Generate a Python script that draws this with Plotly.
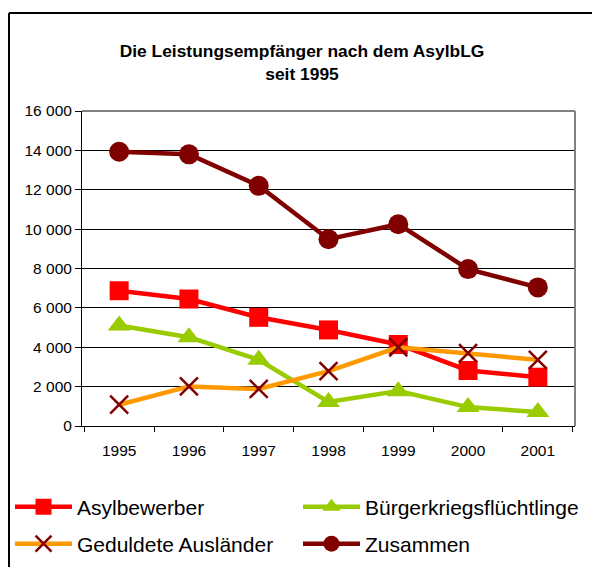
import plotly.graph_objects as go

years = ["1995", "1996", "1997", "1998", "1999", "2000", "2001"]
asylbewerber = [6870, 6450, 5520, 4880, 4140, 2820, 2480]
buergerkrieg = [5100, 4510, 3360, 1220, 1770, 960, 710]
geduldete = [1080, 2010, 1880, 2790, 4000, 3700, 3360]
zusammen = [13930, 13800, 12200, 9490, 10250, 7970, 7040]
y_ticks = [0, 2000, 4000, 6000, 8000, 10000, 12000, 14000, 16000]

FONT = "Liberation Sans, Arial, sans-serif"

# The page places the figure 8px from the window's top-left corner,
# so the figure is sized and positioned in window coordinates minus 8.
OFF = 8
W, H = 600 - OFF, 567 - OFF


def sx(x):  # window x -> container fraction
    return (x - OFF) / W


def sy(y):  # window y -> container fraction
    return 1 - (y - OFF) / H


L, R = 82 - OFF, 600 - 575
T, B = 111 - OFF, 567 - 426
pw, ph = W - L - R, H - T - B


def px(x):  # window x -> paper fraction
    return (x - OFF - L) / pw


def py(y):  # window y -> paper fraction
    return (H - B - (y - OFF)) / ph


fig = go.Figure()
fig.add_trace(go.Scatter(x=years, y=asylbewerber, name="Asylbewerber", mode="lines+markers",
                         line=dict(color="#FF0000", width=4.5),
                         marker=dict(symbol="square", size=19, color="#FF0000"),
                         legend="legend"))
fig.add_trace(go.Scatter(x=years, y=buergerkrieg, name="Bürgerkriegsflüchtlinge", mode="lines+markers",
                         line=dict(color="#99CC00", width=4.5),
                         marker=dict(symbol="triangle-up", size=20, color="#99CC00"),
                         legend="legend2"))
fig.add_trace(go.Scatter(x=years, y=geduldete, name="Geduldete Ausländer", mode="lines+markers",
                         line=dict(color="#FF9900", width=4.5),
                         marker=dict(symbol="x-thin-open", size=18, color="#800000",
                                     line=dict(color="#800000", width=2.5)),
                         legend="legend3"))
fig.add_trace(go.Scatter(x=years, y=zusammen, name="Zusammen", mode="lines+markers",
                         line=dict(color="#800000", width=4.5),
                         marker=dict(symbol="circle", size=20, color="#800000"),
                         legend="legend4"))

legend_common = dict(orientation="h", font=dict(family=FONT, size=21, color="#000000"),
                     itemwidth=57, bgcolor="rgba(0,0,0,0)", xanchor="left", yanchor="middle",
                     xref="container", yref="container",
                     itemclick=False, itemdoubleclick=False)

fig.update_layout(
    width=W, height=H,
    margin=dict(l=L, r=R, t=T, b=B, pad=0),
    paper_bgcolor="white", plot_bgcolor="white",
    separators=", ",
    font=dict(family=FONT, size=15.5, color="#000000"),
    title=dict(text="<b>Die Leistungsempfänger nach dem AsylbLG<br>seit 1995</b>",
               x=sx(302), xanchor="center", y=sy(57), yanchor="middle",
               font=dict(family=FONT, size=17.4, color="#000000")),
    showlegend=True,
    legend=dict(x=sx(10), y=sy(507), **legend_common),
    legend2=dict(x=sx(298), y=sy(507), **legend_common),
    legend3=dict(x=sx(10), y=sy(544), **legend_common),
    legend4=dict(x=sx(298), y=sy(544), **legend_common),
    xaxis=dict(type="category", tickson="boundaries", ticks="outside", ticklen=5,
               tickcolor="#000000", showline=True, linecolor="#000000", linewidth=1,
               showgrid=False, tickfont=dict(size=15.5), ticklabelstandoff=10,
               automargin=False),
    yaxis=dict(range=[0, 16000], tickvals=y_ticks, tickformat=",d", ticks="outside",
               ticklen=6, tickcolor="#000000", showline=True, linecolor="#000000",
               linewidth=1, showgrid=True, gridcolor="#000000", gridwidth=1,
               zeroline=False, tickfont=dict(size=15.5), automargin=False),
    shapes=[
        dict(type="line", xref="paper", yref="paper", x0=0, x1=1, y0=1, y1=1,
             line=dict(color="#808080", width=2)),
        dict(type="line", xref="paper", yref="paper", x0=1, x1=1, y0=0, y1=1,
             line=dict(color="#808080", width=2)),
        dict(type="line", xref="paper", yref="paper", x0=px(9), x1=px(610), y0=py(13), y1=py(13),
             line=dict(color="#000000", width=2)),
        dict(type="line", xref="paper", yref="paper", x0=px(9), x1=px(9), y0=py(13), y1=py(580),
             line=dict(color="#000000", width=2)),
    ],
)

fig.write_html("out.html")
